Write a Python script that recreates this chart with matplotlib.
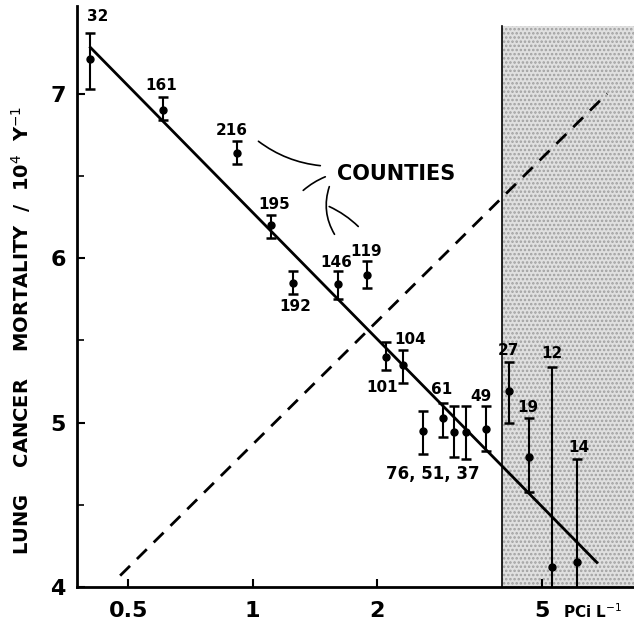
import numpy as np
import matplotlib
matplotlib.use("Agg")
import matplotlib.pyplot as plt

# radon level (pCi/L) and lung cancer mortality (per 10^4 per year)
radon = [0.405, 0.608, 0.917, 1.11, 1.25, 1.61, 1.89, 2.10, 2.31,
         2.58, 2.89, 3.07, 3.28, 3.67, 4.17, 4.66, 5.30, 6.09]
mortality = [7.21, 6.90, 6.64, 6.20, 5.85, 5.84, 5.90, 5.40, 5.35,
             4.95, 5.03, 4.94, 4.94, 4.96, 5.19, 4.79, 4.12, 4.15]
err_hi = [7.37, 6.98, 6.71, 6.26, 5.92, 5.92, 5.98, 5.49, 5.44,
          5.07, 5.12, 5.10, 5.10, 5.10, 5.37, 5.03, 5.34, 4.78]
err_lo = [7.03, 6.84, 6.57, 6.12, 5.78, 5.75, 5.82, 5.32, 5.24,
          4.81, 4.91, 4.79, 4.78, 4.83, 5.00, 4.58, 2.90, 3.52]
labels = ["32", "161", "216", "195", "192", "146", "119", "101", "104",
          "", "61", "", "", "49", "27", "19", "12", "14"]
group_label = "76, 51, 37"

fit_x = [0.405, 6.8]
fit_y = [7.28, 4.15]
theory_x = [0.478, 7.2]
theory_y = [4.07, 7.0]

action_level = 4.0

# label offsets in pixels from each point
label_off = [(7, 42), (-2, 24), (-5, 22), (3, 21), (2, -24), (-2, 22),
             (-1, 23), (-4, -31), (7, 26), (0, 0), (-2, 28), (0, 0),
             (0, 0), (-5, 33), (-1, 41), (-1, 50), (0, 214), (2, 115)]

fig = plt.figure(figsize=(6.34, 6.30), dpi=100)
ax = fig.add_axes([0.1215, 0.068, 0.8785, 0.922])
ax.set_xscale("log")
ax.set_xlim(0.376, 8.36)
ax.set_ylim(4.0, 7.53)

# shaded region above the action level
plt.rcParams["hatch.linewidth"] = 1.2
ax.fill_between([action_level, 8.36], 4.0, 7.41, facecolor="#e0e0e0",
                edgecolor="#a0a0a0", hatch="....", linewidth=0, zorder=0)
ax.plot([action_level, action_level], [4.0, 7.41], color="black", lw=1.2, zorder=1)

ax.plot(fit_x, fit_y, color="black", lw=2.0, zorder=3)
ax.plot(theory_x, theory_y, color="black", lw=2.0, ls=(0, (5, 3.5)), zorder=3)

yerr = [np.array(mortality) - np.array(err_lo), np.array(err_hi) - np.array(mortality)]
ax.errorbar(radon, mortality, yerr=yerr, fmt="o", color="black", ms=5,
            elinewidth=1.5, capsize=3.5, capthick=1.8, zorder=4)

for x, y, lab, off in zip(radon, mortality, labels, label_off):
    if lab:
        ax.annotate(lab, (x, y), xytext=off, textcoords="offset pixels",
                    ha="center", va="center", fontsize=11, fontweight="bold")
ax.text(2.73, 4.69, group_label, ha="center", va="center",
        fontsize=12, fontweight="bold")

# COUNTIES callout
ax.text(1.60, 6.51, "COUNTIES", ha="left", va="center", fontsize=15, fontweight="bold")
leaders = [((1.02, 6.72), (1.48, 6.56), 0.15),
           ((1.31, 6.40), (1.52, 6.50), -0.1),
           ((1.54, 6.45), (1.59, 6.13), 0.25),
           ((1.51, 6.32), (1.82, 6.18), -0.1)]
for a, b, rad in leaders:
    ax.annotate("", xy=b, xytext=a,
                arrowprops=dict(arrowstyle="-", lw=1.2, color="black",
                                connectionstyle=f"arc3,rad={rad}"))

for s in ["top", "right"]:
    ax.spines[s].set_visible(False)
ax.spines["left"].set_linewidth(2.0)
ax.spines["bottom"].set_linewidth(2.0)

ax.set_xticks([0.5, 1, 2, 5])
ax.set_xticklabels(["0.5", "1", "2", "5"])
ax.xaxis.set_minor_locator(matplotlib.ticker.NullLocator())
ax.set_yticks([4, 5, 6, 7])
ax.set_yticks([4.5, 5.5, 6.5], minor=True)
ax.tick_params(axis="both", which="major", direction="in", length=6, width=1.5,
               labelsize=16, pad=8)
ax.tick_params(axis="x", which="major", pad=10)
ax.tick_params(axis="y", which="minor", direction="in", length=5, width=1.2)
for t in ax.get_xticklabels() + ax.get_yticklabels():
    t.set_fontweight("bold")

ax.text(5.64, -0.043, "PCi L$^{-1}$", transform=ax.get_xaxis_transform(),
        ha="left", va="center", fontsize=11, fontweight="bold")
ax.set_ylabel("LUNG    CANCER    MORTALITY  /  10$^{4}$  Y$^{-1}$",
              fontsize=14, fontweight="bold")
ax.yaxis.set_label_coords(-0.079, 0.442)

fig.savefig("out.png", dpi=100)
